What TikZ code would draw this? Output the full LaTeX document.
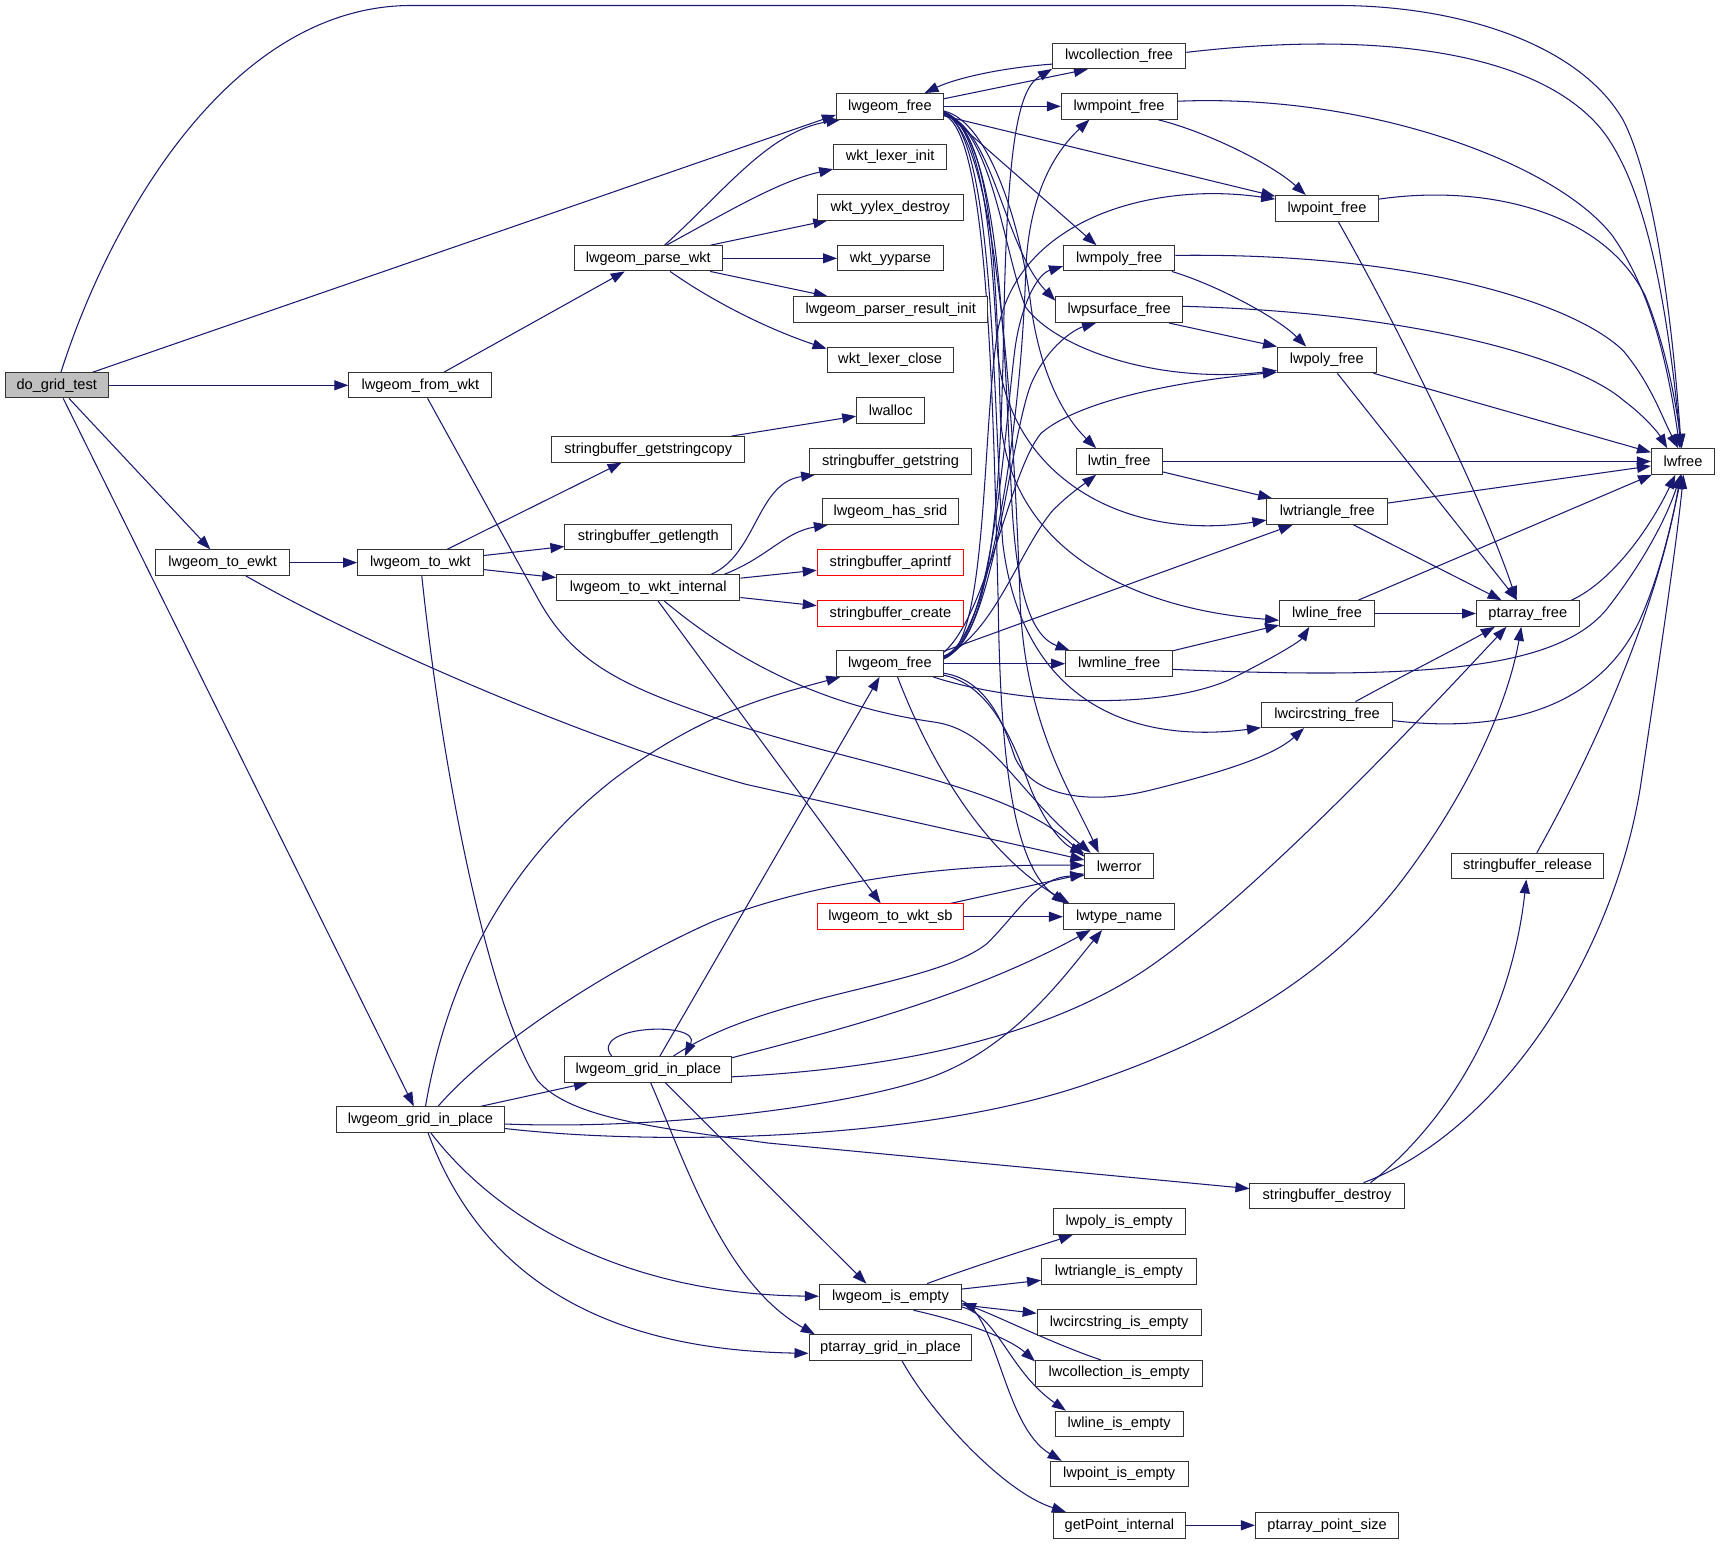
\documentclass[tikz,border=0pt]{standalone}
\usepackage{fontspec}
\setmainfont{Liberation Sans}
\usetikzlibrary{arrows.meta}
\definecolor{edgec}{HTML}{191970}
\definecolor{boxred}{HTML}{FF0000}
\definecolor{boxgray}{HTML}{BFBFBF}
\definecolor{boxline}{HTML}{333333}
\pgfdeclarelayer{bg}
\pgfdeclarelayer{edges}
\pgfsetlayers{bg,edges,main}
\newcommand\mkbox[7]{\node[fnbox,#7,minimum width={(#4-#2)*1.09694},minimum height={(#5-#3)*1.09694}] (#1) at ({(#2+#4)/2},{(#3+#5)/2}) {#6};}
\begin{document}
\begin{tikzpicture}[x=1.09694pt,y=-1.09694pt,
 fnbox/.style={draw=boxline,fill=white,line width=1pt,inner sep=0pt,font=\fontsize{14.6}{17}\selectfont},
 redbox/.style={draw=boxred},
 graybox/.style={fill=boxgray},
 edg/.style={draw=edgec,line width=1.05pt,-{Triangle[length=14pt,width=10pt]}}]
\begin{pgfonlayer}{bg}
\fill[white] (0,0) rectangle (1568,1408);
\end{pgfonlayer}
\useasboundingbox (0,0) rectangle (1568,1408);
% nodes
\mkbox{dgt}{5}{339.8}{98.5}{362.7}{do\_grid\_test}{graybox}
\mkbox{gfw}{318}{339.8}{448.5}{362.7}{lwgeom\_from\_wkt}{}
\mkbox{tew}{142}{501.3}{264}{524.5}{lwgeom\_to\_ewkt}{}
\mkbox{tw}{326}{501.3}{440.5}{524.5}{lwgeom\_to\_wkt}{}
\mkbox{gipL}{307}{1009}{459.5}{1032.3}{lwgeom\_grid\_in\_place}{}
\mkbox{pw}{523.5}{224}{658.5}{247}{lwgeom\_parse\_wkt}{}
\mkbox{fT}{762.5}{85.3}{860}{108.6}{lwgeom\_free}{}
\mkbox{wli}{760}{131.5}{863}{154.8}{wkt\_lexer\_init}{}
\mkbox{wyd}{745}{177.3}{878}{200.6}{wkt\_yylex\_destroy}{}
\mkbox{wyp}{763.5}{224}{860}{247}{wkt\_yyparse}{}
\mkbox{pri}{723.5}{270.6}{900.5}{294}{lwgeom\_parser\_result\_init}{}
\mkbox{wlc}{754}{316.4}{869}{339.8}{wkt\_lexer\_close}{}
\mkbox{alloc}{781}{362.7}{843}{386}{lwalloc}{}
\mkbox{sgsc}{503}{398}{679}{421.3}{stringbuffer\_getstringcopy}{}
\mkbox{sgl}{515}{478}{667}{501.3}{stringbuffer\_getlength}{}
\mkbox{sgs}{737.5}{409}{886}{432.3}{stringbuffer\_getstring}{}
\mkbox{hs}{750}{454.7}{873.5}{478}{lwgeom\_has\_srid}{}
\mkbox{sap}{745}{501.3}{878.5}{524.5}{stringbuffer\_aprintf}{redbox}
\mkbox{sc}{745}{547.6}{878.5}{571}{stringbuffer\_create}{redbox}
\mkbox{twi}{507.5}{524}{674.5}{547.5}{lwgeom\_to\_wkt\_internal}{}
\mkbox{fM}{762.5}{593.4}{860}{616.7}{lwgeom\_free}{}
\mkbox{tws}{745}{824}{878.5}{847.4}{lwgeom\_to\_wkt\_sb}{redbox}
\mkbox{err}{989}{777.9}{1051.5}{801.2}{lwerror}{}
\mkbox{tn}{969.5}{824}{1071}{847.4}{lwtype\_name}{}
\mkbox{gipM}{515}{963.3}{667}{986.6}{lwgeom\_grid\_in\_place}{}
\mkbox{ie}{747}{1170.6}{876.5}{1194}{lwgeom\_is\_empty}{}
\mkbox{pgip}{737.5}{1216.8}{886}{1240.2}{ptarray\_grid\_in\_place}{}
\mkbox{cf}{959.5}{39.3}{1081}{62.6}{lwcollection\_free}{}
\mkbox{mpf}{967.5}{85.3}{1073}{108.6}{lwmpoint\_free}{}
\mkbox{pf}{1163}{178.2}{1256.5}{201.5}{lwpoint\_free}{}
\mkbox{mpyf}{969.5}{224}{1071}{247}{lwmpoly\_free}{}
\mkbox{psf}{962.5}{270.6}{1078}{294}{lwpsurface\_free}{}
\mkbox{pyf}{1164.5}{316.4}{1254.5}{339.8}{lwpoly\_free}{}
\mkbox{tinf}{981}{409}{1059.5}{432.3}{lwtin\_free}{}
\mkbox{trf}{1155}{454.7}{1265}{478}{lwtriangle\_free}{}
\mkbox{lf}{1166.5}{547.6}{1253}{571}{lwline\_free}{}
\mkbox{mlf}{971.5}{593.4}{1069}{616.7}{lwmline\_free}{}
\mkbox{csf}{1150}{640}{1269.5}{663.3}{lwcircstring\_free}{}
\mkbox{paf}{1346}{547.6}{1439.5}{571}{ptarray\_free}{}
\mkbox{free}{1505.5}{409}{1563}{432.3}{lwfree}{}
\mkbox{sbr}{1323}{777.9}{1462}{801.2}{stringbuffer\_release}{}
\mkbox{sbd}{1139.5}{1078.6}{1280}{1101.9}{stringbuffer\_destroy}{}
\mkbox{pie}{960}{1101.9}{1080.5}{1125.2}{lwpoly\_is\_empty}{}
\mkbox{trie}{949.5}{1147.7}{1090.5}{1171}{lwtriangle\_is\_empty}{}
\mkbox{csie}{945.5}{1194}{1095}{1217.3}{lwcircstring\_is\_empty}{}
\mkbox{cie}{944}{1240.2}{1096.5}{1263.5}{lwcollection\_is\_empty}{}
\mkbox{lie}{962}{1286.4}{1078.5}{1309.7}{lwline\_is\_empty}{}
\mkbox{ptie}{957.5}{1332.2}{1083}{1355.5}{lwpoint\_is\_empty}{}
\mkbox{gpi}{960}{1378.8}{1081}{1402.2}{getPoint\_internal}{}
\mkbox{pps}{1144.5}{1378.8}{1275}{1402.2}{ptarray\_point\_size}{}
\begin{pgfonlayer}{edges}
% do_grid_test
\draw[edg] (dgt) .. controls (100,200) and (210,5) .. (375,5) -- (1219,5) .. controls (1330,5) and (1440,40) .. (1480,110) .. controls (1510,170) and (1525,300) .. (free.97);
\draw[edg] (dgt.20) -- (fT.-171);
\draw[edg] (dgt) -- (gfw);
\draw[edg] (dgt) -- (tew);
\draw[edg] (dgt) -- (gipL);
% from_wkt
\draw[edg] (gfw) -- (pw);
\draw[edg] (gfw) -- (490,545) .. controls (520,600) and (560,622) .. (640,650) .. controls (760,695) and (920,712) .. (err.165);
% to_ewkt
\draw[edg] (tew) -- (tw);
\draw[edg] (tew) .. controls (320,580) and (520,670) .. (680,715) -- (err.170);
% to_wkt
\draw[edg] (tw) -- (sgsc);
\draw[edg] (tw) -- (sgl);
\draw[edg] (tw) -- (twi);
\draw[edg] (tw) .. controls (405,720) and (448,920) .. (490,985) .. controls (520,1020) and (600,1028) .. (700,1042) -- (sbd);
% to_wkt_internal
\draw[edg] (twi.12) .. controls (690,505) and (690,440) .. (sgs.-170);
\draw[edg] (twi.10) .. controls (700,508) and (715,485) .. (hs.-168);
\draw[edg] (twi) -- (sap);
\draw[edg] (twi) -- (sc);
\draw[edg] (twi) -- (tws);
\draw[edg] (twi) .. controls (680,610) and (760,645) .. (850,658) .. controls (905,665) and (925,720) .. (err.155);
% parse_wkt
\draw[edg] (pw.39) .. controls (660,175) and (700,120) .. (fT.-165);
\draw[edg] (pw.36) .. controls (660,195) and (710,165) .. (wli.-168);
\draw[edg] (pw) -- (wyd);
\draw[edg] (pw) -- (wyp);
\draw[edg] (pw) -- (pri);
\draw[edg] (pw.-31) .. controls (650,275) and (700,300) .. (wlc.170);
\draw[edg] (sgsc) -- (alloc);
% top lwgeom_free
\draw[edg] (fT.8) -- (cf.-157);
\draw[edg] (cf.-173) .. controls (910,62) and (870,72) .. (fT.21);
\draw[edg] (fT) -- (mpf);
\draw[edg] (fT.-10) -- (pf.167);
\draw[edg] (fT.-5) -- (mpyf.150);
\draw[edg] (fT.-8) .. controls (905,115) and (915,225) .. (psf.172);
\draw[edg] (fT.-6) .. controls (905,120) and (915,230) .. (935,280) .. controls (965,320) and (1060,350) .. (pyf.-168);
\draw[edg] (fT.-5) .. controls (900,110) and (930,200) .. (940,280) .. controls (950,350) and (975,385) .. (tinf.150);
\draw[edg] (fT.-6) .. controls (900,115) and (905,250) .. (909,314) .. controls (915,430) and (1020,495) .. (trf.-172);
\draw[edg] (fT.-6) .. controls (905,118) and (908,250) .. (912,380) .. controls (920,500) and (1030,555) .. (lf.-172);
\draw[edg] (fT.-7) .. controls (910,120) and (915,300) .. (922,450) .. controls (926,540) and (940,580) .. (mlf.165);
\draw[edg] (fT.-7) .. controls (905,120) and (905,350) .. (914,494) .. controls (930,630) and (1020,680) .. (csf.-169);
\draw[edg] (fT.-8) .. controls (910,120) and (925,400) .. (930,550) .. controls (935,660) and (975,720) .. (err.147);
\draw[edg] (fT.-9) .. controls (900,120) and (905,350) .. (910,550) .. controls (912,700) and (925,790) .. (tn.166);
% middle lwgeom_free
\draw[edg] (fM.5) .. controls (905,580) and (912,450) .. (915,300) .. controls (918,120) and (930,80) .. (cf.-169);
\draw[edg] (fM.8) .. controls (900,585) and (930,400) .. (935,250) .. controls (937,180) and (960,140) .. (mpf.-156);
\draw[edg] (fM.6) .. controls (900,590) and (895,400) .. (909,305) .. controls (925,200) and (1050,165) .. (pf.170);
\draw[edg] (fM.7) .. controls (905,585) and (915,400) .. (925,320) .. controls (930,280) and (945,250) .. (mpyf.-172);
\draw[edg] (fM.7) .. controls (905,590) and (920,400) .. (940,350) .. controls (955,315) and (980,300) .. (psf.-150);
\draw[edg] (fM.12) .. controls (900,560) and (920,430) .. (949,395) .. controls (990,360) and (1100,345) .. (pyf.-166);
\draw[edg] (fM.8) .. controls (905,580) and (930,500) .. (960,465) .. controls (975,450) and (990,440) .. (tinf.-150);
\draw[edg] (fM.13) -- (trf.-159);
\draw[edg] (fM.-17) .. controls (920,640) and (1050,650) .. (1120,620) .. controls (1160,600) and (1185,585) .. (lf.-143);
\draw[edg] (fM) -- (mlf);
\draw[edg] (fM.-10) .. controls (900,620) and (915,660) .. (925,690) .. controls (940,725) and (990,735) .. (1050,720) .. controls (1110,705) and (1160,690) .. (csf.-150);
\draw[edg] (fM.-12) .. controls (905,625) and (925,680) .. (940,720) .. controls (955,755) and (970,770) .. (err.160);
\draw[edg] (fM.-60) .. controls (850,700) and (900,780) .. (tn.165);
% right column
\draw[edg] (cf.3) .. controls (1250,28) and (1400,45) .. (1460,118) .. controls (1505,175) and (1522,300) .. (free.98);
\draw[edg] (mpf.5) .. controls (1250,85) and (1420,150) .. (1470,215) .. controls (1505,265) and (1520,330) .. (free.103);
\draw[edg] (mpf.-19) .. controls (1100,120) and (1160,150) .. (pf.148);
\draw[edg] (pf.10) .. controls (1350,168) and (1460,190) .. (1500,270) .. controls (1520,320) and (1528,370) .. (free.95);
\draw[edg] (pf.-50) .. controls (1270,290) and (1350,450) .. (paf.130);
\draw[edg] (mpyf.3) .. controls (1300,230) and (1440,280) .. (1480,320) .. controls (1505,350) and (1515,380) .. (free.110);
\draw[edg] (mpyf.-14) .. controls (1110,260) and (1165,290) .. (pyf.147);
\draw[edg] (psf.3) .. controls (1300,285) and (1440,330) .. (1480,365) .. controls (1500,380) and (1512,395) .. (free.140);
\draw[edg] (psf.-15) -- (pyf.165);
\draw[edg] (pyf) -- (free);
\draw[edg] (pyf) -- (paf);
\draw[edg] (tinf) -- (free);
\draw[edg] (tinf) -- (trf);
\draw[edg] (trf) -- (free);
\draw[edg] (trf) -- (paf);
\draw[edg] (lf) -- (paf);
\draw[edg] (lf) -- (free);
\draw[edg] (mlf) -- (lf);
\draw[edg] (mlf.-6) .. controls (1300,620) and (1420,610) .. (1465,555) .. controls (1500,510) and (1520,470) .. (free.-100);
\draw[edg] (csf.25) .. controls (1290,610) and (1330,590) .. (paf.-158);
\draw[edg] (csf.-5) .. controls (1380,670) and (1460,640) .. (1495,565) .. controls (1515,520) and (1525,470) .. (free.-95);
\draw[edg] (paf.17) .. controls (1470,530) and (1505,480) .. (free.-120);
\draw[edg] (sbr.55) .. controls (1450,690) and (1510,560) .. (free.-100);
\draw[edg] (sbd.17) .. controls (1300,1040) and (1375,950) .. (sbr.-95);
\draw[edg] (sbd.20) .. controls (1370,1030) and (1470,870) .. (1495,720) .. controls (1510,620) and (1528,500) .. (free.-88);
% grid in place (left)
\draw[edg] (gipL) -- (gipM);
\draw[edg] (gipL.69) .. controls (410,880) and (470,780) .. (560,710) .. controls (640,650) and (700,635) .. (fM.-165);
\draw[edg] (gipL.37) .. controls (450,950) and (560,880) .. (650,840) .. controls (750,800) and (880,787) .. (err);
\draw[edg] (gipL.-3) .. controls (600,1030) and (760,1010) .. (840,985) .. controls (920,960) and (970,890) .. (tn.-142);
\draw[edg] (gipL.-6) .. controls (600,1045) and (850,1040) .. (1000,985) .. controls (1130,940) and (1220,880) .. (1280,800) .. controls (1340,720) and (1375,640) .. (paf.-116);
\draw[edg] (gipL.-52) .. controls (460,1120) and (580,1180) .. (ie);
\draw[edg] (gipL.-60) .. controls (430,1140) and (520,1230) .. (pgip.-176);
% grid in place (middle)
\draw[edg] (gipM.160) .. controls (535,935) and (640,930) .. (gipM.20);
\draw[edg] (gipM.49) -- (fM.-128);
\draw[edg] (gipM.28) .. controls (700,905) and (850,900) .. (900,860) .. controls (930,830) and (945,800) .. (err.-165);
\draw[edg] (gipM.8) .. controls (760,940) and (880,910) .. (tn.-155);
\draw[edg] (gipM.-5) .. controls (800,975) and (950,950) .. (1050,880) .. controls (1150,810) and (1300,650) .. (paf.-148);
\draw[edg] (gipM.-38) -- (ie.151);
\draw[edg] (gipM.-80) .. controls (625,1060) and (660,1170) .. (pgip.170);
% is_empty
\draw[edg] (ie.20) .. controls (900,1150) and (950,1135) .. (pie.-164);
\draw[edg] (ie) -- (trie);
\draw[edg] (ie) -- (csie);
\draw[edg] (cie.144) .. controls (960,1225) and (910,1200) .. (ie.-5);
\draw[edg] (ie.-30) .. controls (880,1205) and (920,1220) .. (cie.172);
\draw[edg] (ie.-8) .. controls (910,1200) and (920,1250) .. (lie.166);
\draw[edg] (ie.-3) .. controls (910,1200) and (915,1300) .. (ptie.167);
\draw[edg] (pgip.-49) .. controls (850,1290) and (915,1360) .. (gpi.166);
\draw[edg] (gpi) -- (pps);
% to_wkt_sb
\draw[edg] (tws) -- (err);
\draw[edg] (tws) -- (tn);
\end{pgfonlayer}
\end{tikzpicture}
\end{document}
